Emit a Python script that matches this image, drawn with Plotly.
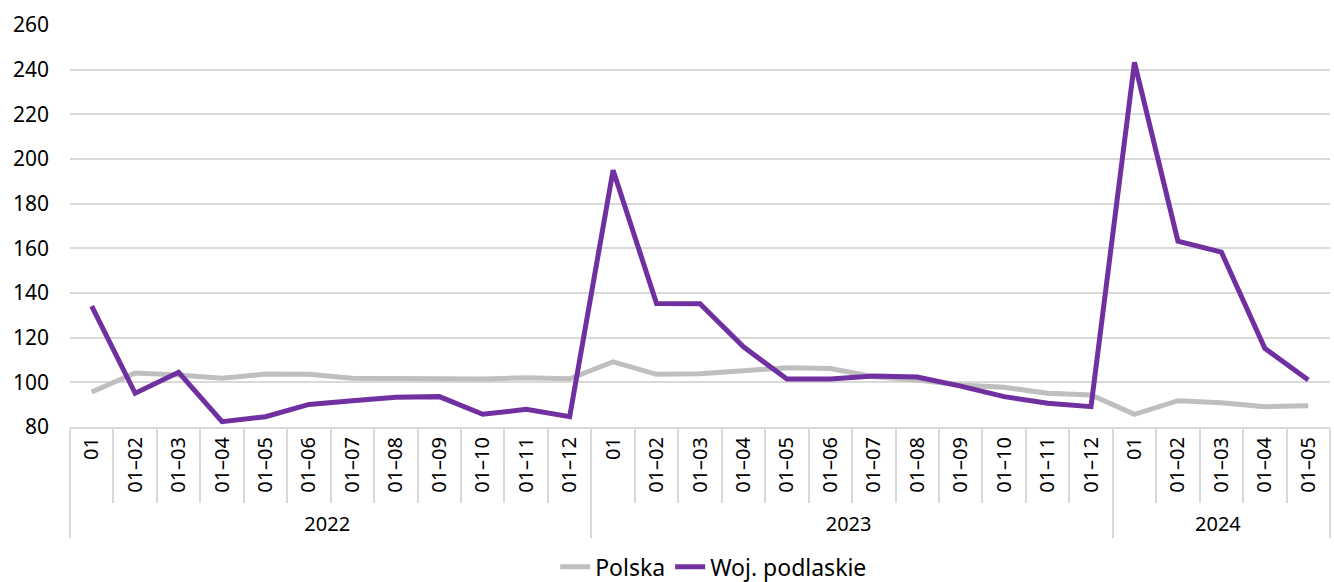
import plotly.graph_objects as go

years = ["2022"] * 12 + ["2023"] * 12 + ["2024"] * 5
months = ["01", "01–02", "01–03", "01–04", "01–05", "01–06", "01–07", "01–08", "01–09", "01–10", "01–11", "01–12",
          "01", "01–02", "01–03", "01–04", "01–05", "01–06", "01–07", "01–08", "01–09", "01–10", "01–11", "01–12",
          "01", "01–02", "01–03", "01–04", "01–05"]

polska = [95.7, 104.2, 103.3, 101.8, 103.7, 103.6, 101.8, 101.5, 101.6, 101.5, 102.0, 101.6,
          109.2, 103.6, 103.8, 105.2, 106.5, 106.2, 102.5, 101.0, 98.8, 97.8, 95.1, 94.3,
          85.7, 91.8, 90.9, 89.1, 89.5]
podlaskie = [134.1, 95.1, 104.5, 82.4, 84.6, 90.1, 91.8, 93.3, 93.6, 85.7, 87.9, 84.6,
             195.0, 135.3, 135.2, 115.9, 101.5, 101.5, 102.8, 102.4, 98.3, 93.6, 90.6, 89.1,
             243.3, 163.2, 158.3, 115.2, 101.0]

FONT = "Noto Sans"
fig = go.Figure()
fig.add_trace(go.Scatter(x=[years, months], y=polska, mode="lines", name="Polska",
                         line=dict(color="#BFBFBF", width=5)))
fig.add_trace(go.Scatter(x=[years, months], y=podlaskie, mode="lines", name="Woj. podlaskie",
                         line=dict(color="#7030A0", width=5)))

fig.update_layout(
    width=1334, height=582,
    margin=dict(l=70, r=4, t=25, b=155),
    paper_bgcolor="white", plot_bgcolor="white",
    font=dict(family=FONT, color="#000000", size=20),
    showlegend=True,
    legend=dict(orientation="h", xref="container", yref="container",
                x=0.535, xanchor="center", y=0.026, yanchor="middle",
                font=dict(size=23, family=FONT), traceorder="normal"),
    xaxis=dict(type="multicategory", tickangle=-90, showgrid=False, automargin=False,
               range=[-0.5, 28.5],
               showline=True, linecolor="#D9D9D9", linewidth=2,
               ticks="outside", ticklen=74, tickcolor="#D9D9D9", tickwidth=2,
               dividercolor="#D9D9D9", dividerwidth=2,
               tickfont=dict(size=20, family=FONT)),
    yaxis=dict(range=[80, 260], dtick=20, tick0=80, showgrid=True, gridcolor="#D9D9D9", gridwidth=2,
               zeroline=False, showline=False, ticks="", ticklabelstandoff=20, automargin=False,
               tickfont=dict(size=21, family=FONT)),
)

fig.write_html("out.html", config={"displayModeBar": False},
               post_script="document.body.style.margin='0';")
